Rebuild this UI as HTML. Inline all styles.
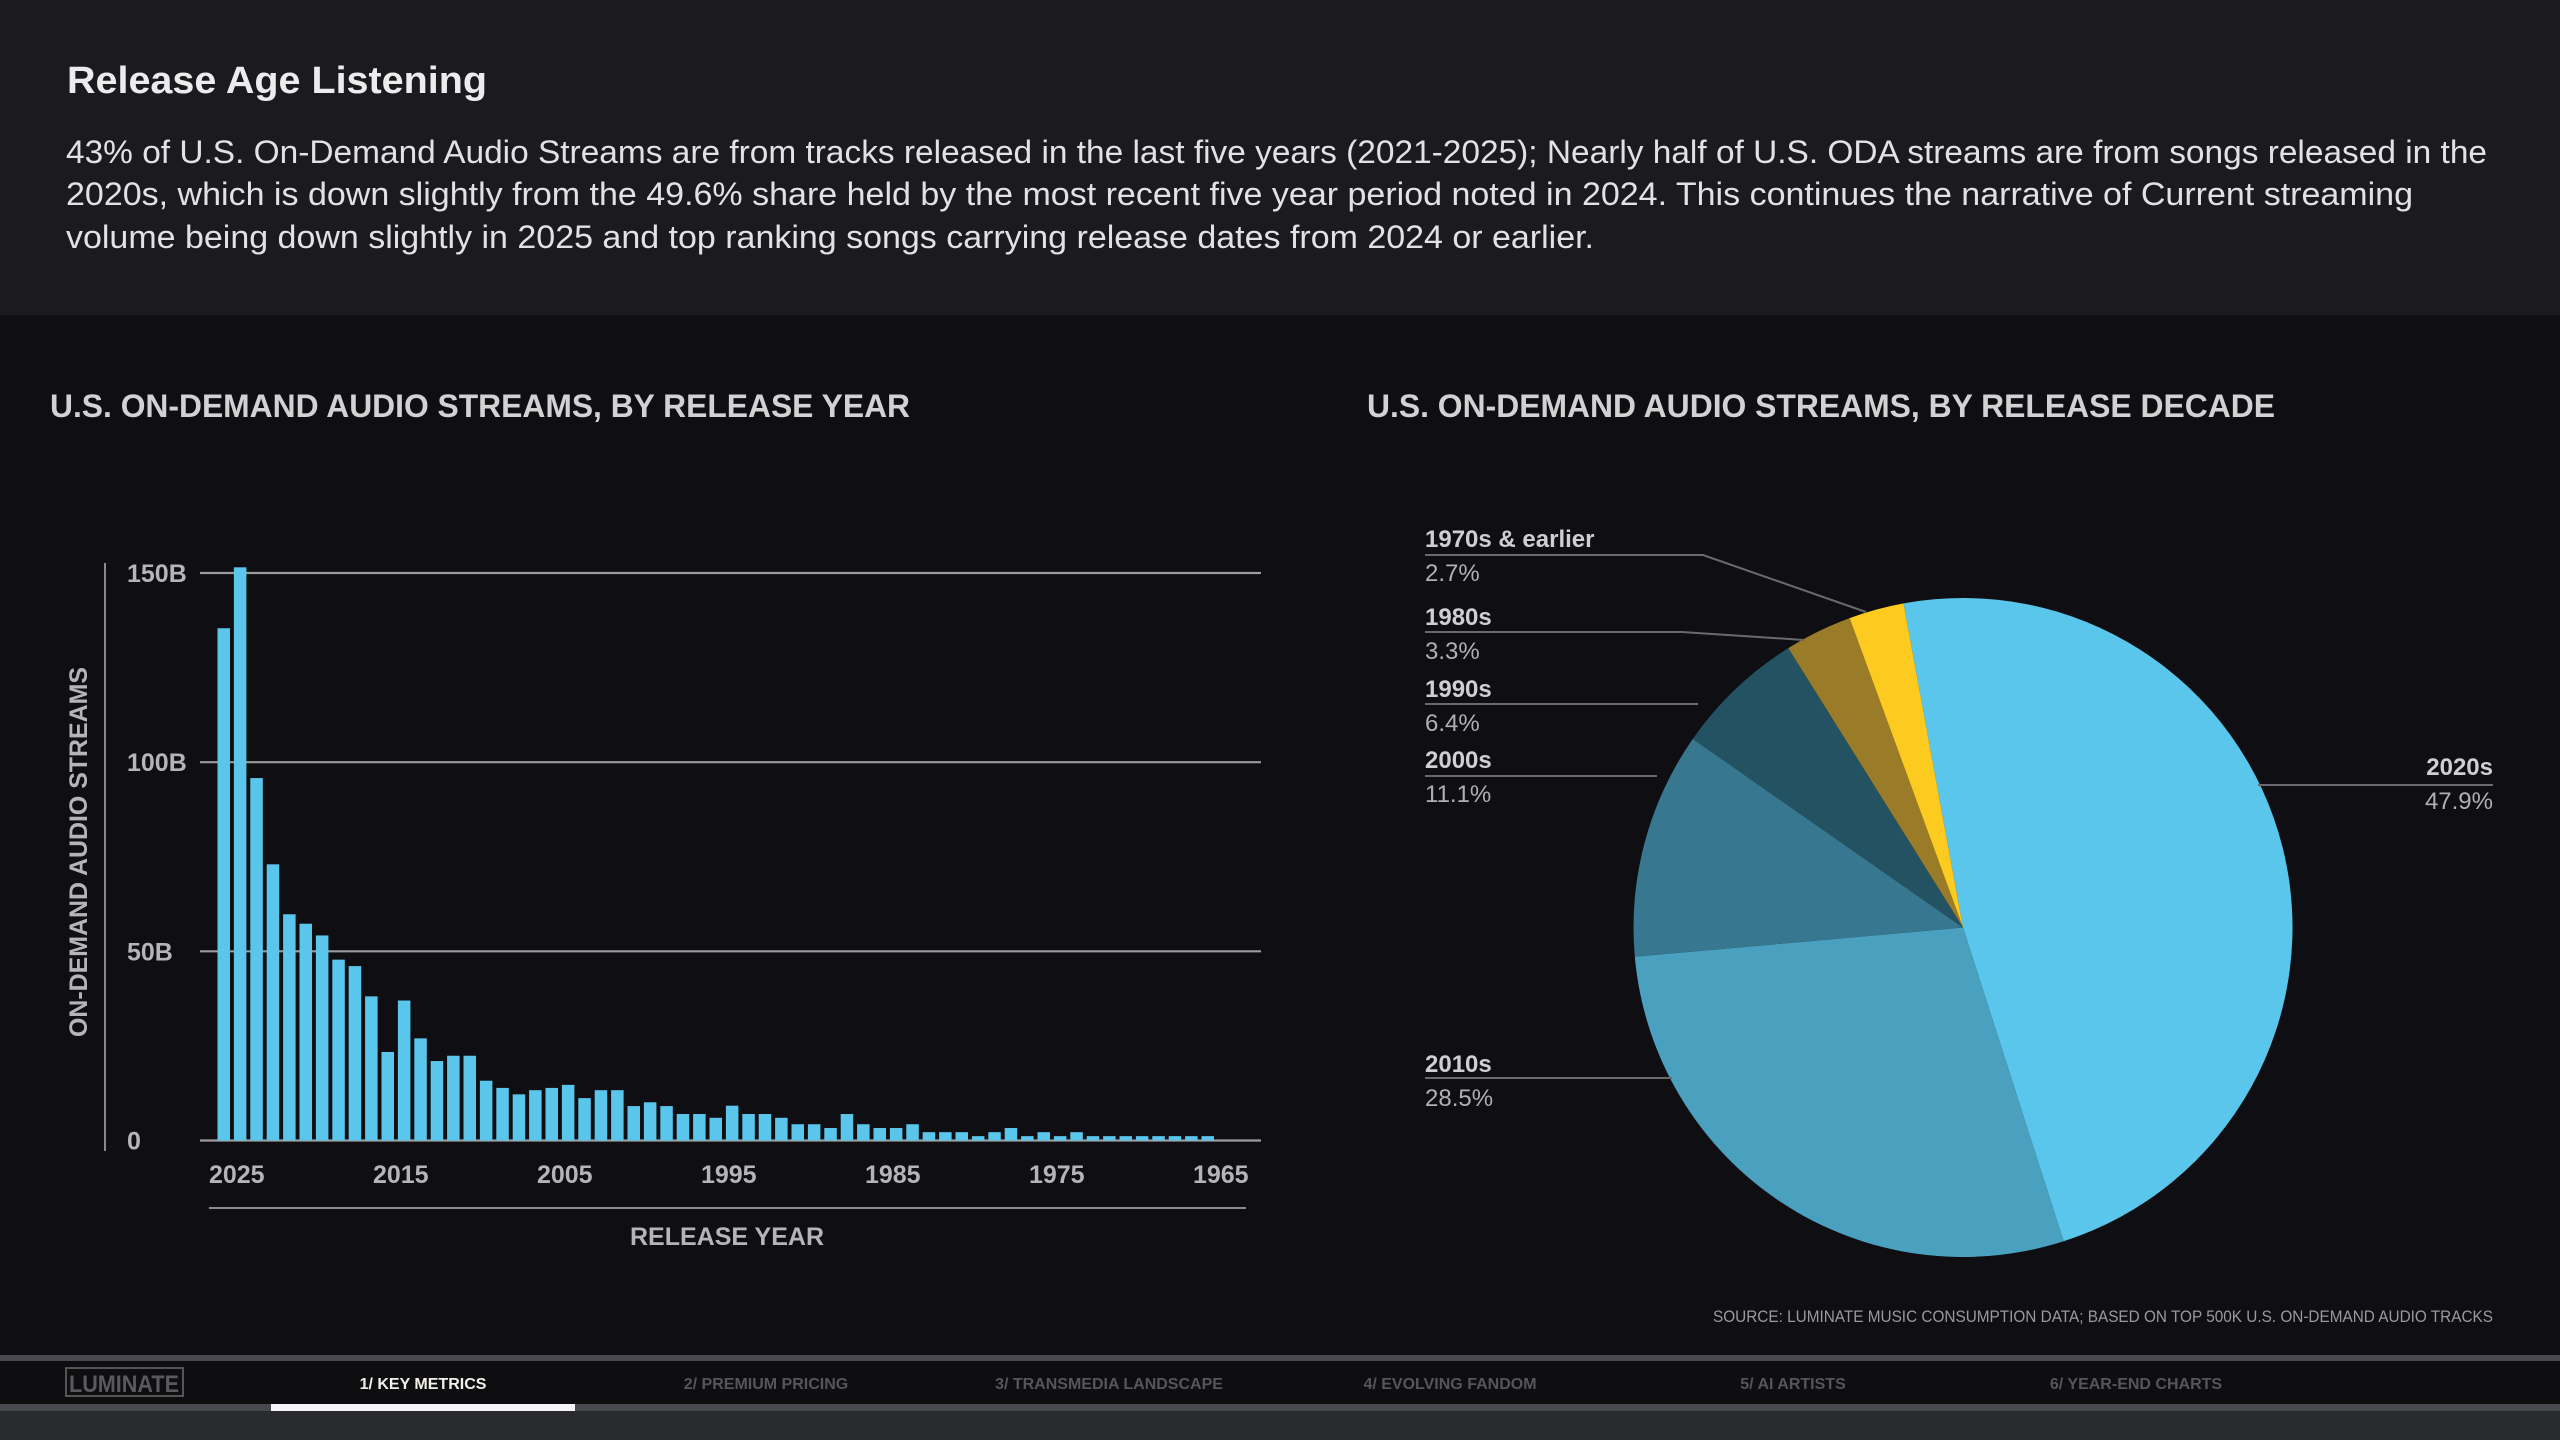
<!DOCTYPE html>
<html><head><meta charset="utf-8">
<style>
html,body{margin:0;padding:0;background:#0f0f13;}
svg{display:block;font-family:"Liberation Sans",sans-serif;}
</style></head>
<body>
<svg id="page" width="2560" height="1440" viewBox="0 0 2560 1440" xmlns="http://www.w3.org/2000/svg">
  <rect width="2560" height="1440" fill="#0f0f13"/>
  <rect x="0" y="0" width="2560" height="315" fill="#1b1b1f"/>
  <text x="67" y="93" fill="#ececec" font-size="38" font-weight="bold" textLength="420" lengthAdjust="spacingAndGlyphs">Release Age Listening</text>
  <g fill="#e2e2e2" font-size="32">
    <text x="66" y="163" textLength="2421" lengthAdjust="spacingAndGlyphs">43% of U.S. On-Demand Audio Streams are from tracks released in the last five years (2021-2025); Nearly half of U.S. ODA streams are from songs released in the</text>
    <text x="66" y="205" textLength="2347" lengthAdjust="spacingAndGlyphs">2020s, which is down slightly from the 49.6% share held by the most recent five year period noted in 2024. This continues the narrative of Current streaming</text>
    <text x="66" y="248" textLength="1528" lengthAdjust="spacingAndGlyphs">volume being down slightly in 2025 and top ranking songs carrying release dates from 2024 or earlier.</text>
  </g>
  <text x="50" y="417" fill="#d2d2d2" font-size="32" font-weight="bold" textLength="860" lengthAdjust="spacingAndGlyphs">U.S. ON-DEMAND AUDIO STREAMS, BY RELEASE YEAR</text>
  <text x="1367" y="417" fill="#d2d2d2" font-size="32" font-weight="bold" textLength="908" lengthAdjust="spacingAndGlyphs">U.S. ON-DEMAND AUDIO STREAMS, BY RELEASE DECADE</text>

  <g id="barchart"></g>
  <g id="piechart"></g>

  <text x="2493" y="1322" text-anchor="end" fill="#9a9a9e" font-size="17" textLength="780" lengthAdjust="spacingAndGlyphs">SOURCE:  LUMINATE MUSIC CONSUMPTION DATA; BASED ON TOP 500K U.S. ON-DEMAND AUDIO TRACKS</text>

  <g>
    <rect x="0" y="1355" width="2560" height="6" fill="#48494e"/>
    <rect x="0" y="1361" width="2560" height="43" fill="#0e0e11"/>
    <rect x="0" y="1404" width="2560" height="7" fill="#48494e"/>
    <rect x="0" y="1411" width="2560" height="29" fill="#2a2b2f"/>
    <rect x="271" y="1404" width="304" height="7" fill="#f4f4f8"/>
    <g>
      <rect x="66" y="1368" width="117" height="28" fill="none" stroke="#555" stroke-width="2"/>
      <text x="124" y="1392" text-anchor="middle" fill="#5a5a5e" font-size="24" font-weight="bold" textLength="110" lengthAdjust="spacingAndGlyphs">LUMINATE</text>
    </g>
    <text x="423" y="1389" text-anchor="middle" fill="#f2f0e8" font-size="16" font-weight="bold">1/ KEY METRICS</text>
    <text x="766" y="1389" text-anchor="middle" fill="#56565a" font-size="16" font-weight="bold">2/ PREMIUM PRICING</text>
    <text x="1109" y="1389" text-anchor="middle" fill="#56565a" font-size="16" font-weight="bold">3/ TRANSMEDIA LANDSCAPE</text>
    <text x="1450" y="1389" text-anchor="middle" fill="#56565a" font-size="16" font-weight="bold">4/ EVOLVING FANDOM</text>
    <text x="1793" y="1389" text-anchor="middle" fill="#56565a" font-size="16" font-weight="bold">5/ AI ARTISTS</text>
    <text x="2136" y="1389" text-anchor="middle" fill="#56565a" font-size="16" font-weight="bold">6/ YEAR-END CHARTS</text>
  </g>
</svg>
<script>
// ---- Bar chart data ----
const barYears = [];
for (let y = 2025; y >= 1965; y--) barYears.push(y);
const barValues = [135.4,151.5,95.8,73.0,59.8,57.3,54.2,47.8,46.1,38.1,
  23.4,37.0,27.0,21.0,22.4,22.4,15.8,13.9,12.2,13.3,
  13.9,14.7,11.2,13.3,13.3,9.1,10.1,9.1,7.0,7.0,
  6.0,9.2,7.0,7.0,6.0,4.3,4.3,3.3,7.0,4.3,
  3.3,3.3,4.3,2.2,2.2,2.2,1.15,2.2,3.3,1.15,
  2.2,1.15,2.2,1.15,1.15,1.15,1.15,1.15,1.15,1.15,1.15];
const yTicks = [0,50,100,150];
const yTickLabels = ["0","50B","100B","150B"];
const xTickYears = [2025,2015,2005,1995,1985,1975,1965];

// ---- Pie data ----
const pieLabels = ["2020s","2010s","2000s","1990s","1980s","1970s & earlier"];
const pieValues = [47.9,28.5,11.1,6.4,3.3,2.7];
const pieValueLabels = ["47.9%","28.5%","11.1%","6.4%","3.3%","2.7%"];

const NS = "http://www.w3.org/2000/svg";
function mk(tag, attrs, parent){
  const e = document.createElementNS(NS, tag);
  for (const k in attrs) e.setAttribute(k, attrs[k]);
  parent.appendChild(e);
  return e;
}

// ---- Bar chart ----
(function(){
  const g = document.getElementById('barchart');
  const x0 = 217.5, pitch = 16.4, bw = 12.5;
  const yBase = 1140.5, yTop = 573, vmax = 150;
  const yScale = v => yBase - v / vmax * (yBase - yTop);
  const xScale = i => x0 + i * pitch;

  const yAxis = mk('line', {x1:105,y1:563,x2:105,y2:1151,stroke:'#8a8a8e','stroke-width':2}, g);
  
  

  yTicks.forEach((t, i) => {
    const y = yScale(t);
    const gl = mk('line', {x1:200,y1:y,x2:1261,y2:y,stroke:'#9c9ca0','stroke-width':2.2}, g);
    
    
    const tl = mk('text', {x:127,y:y+9,fill:'#b5b5b8','font-size':25,'font-weight':'bold'}, g);
    tl.textContent = yTickLabels[i];
    
    
  });

  barValues.forEach((v, i) => {
    const y = yScale(v);
    const r = mk('rect', {x:xScale(i),y:y,width:bw,height:yBase-y,fill:'#5bc6ec'}, g);
    
    
  });

  xTickYears.forEach(yr => {
    const i = barYears.indexOf(yr);
    const t = mk('text', {x:xScale(i)+bw/2+13,y:1183,'text-anchor':'middle',fill:'#b5b5b8','font-size':25,'font-weight':'bold'}, g);
    t.textContent = String(yr);
    
    
  });

  const xl = mk('line', {x1:209,y1:1208,x2:1246,y2:1208,stroke:'#8a8a8e','stroke-width':2}, g);
  
  
  const xt = mk('text', {x:727,y:1245,'text-anchor':'middle',fill:'#b5b5b8','font-size':25,'font-weight':'bold'}, g);
  xt.textContent = 'RELEASE YEAR';
  
  
  const yt = mk('text', {x:0,y:0,'text-anchor':'middle',fill:'#b5b5b8','font-size':25,'font-weight':'bold',transform:'translate(87,852) rotate(-90)',textLength:370,lengthAdjust:'spacingAndGlyphs'}, g);
  yt.textContent = 'ON-DEMAND AUDIO STREAMS';
  
  
})();

// ---- Pie chart ----
(function(){
  const g = document.getElementById('piechart');
  const cx = 1963, cy = 927.5, r = 329.5;
  const colors = ['#5bc6ec','#4aa0bf','#37778f','#235262','#9a7b27','#fdcb1f'];
  const total = pieValues.reduce((a,b)=>a+b,0);
  let a = -10.4;
  const pt = deg => [cx + r*Math.sin(deg*Math.PI/180), cy - r*Math.cos(deg*Math.PI/180)];
  pieValues.forEach((v, i) => {
    const sweep = v/total*360;
    const [x1,y1] = pt(a), [x2,y2] = pt(a+sweep);
    const p = mk('path', {d:`M${cx},${cy} L${x1},${y1} A${r},${r} 0 ${sweep>180?1:0} 1 ${x2},${y2} Z`, fill:colors[i]}, g);
    
    
    a += sweep;
  });

  // label layout (positions only)
  const layout = [
    {x:2493, ly:775, vy:809, anchor:'end', line:'M2258,785 L2493,785'},
    {x:1425, ly:1072, vy:1106, anchor:'start', line:'M1425,1078 L1672,1078'},
    {x:1425, ly:768, vy:802, anchor:'start', line:'M1425,776 L1657,776'},
    {x:1425, ly:697, vy:731, anchor:'start', line:'M1425,704 L1698,704'},
    {x:1425, ly:625, vy:659, anchor:'start', line:'M1425,632 L1682,632 L1804,640'},
    {x:1425, ly:547, vy:581, anchor:'start', line:'M1425,555 L1703,555 L1866,612'}
  ];
  pieLabels.forEach((lab, i) => {
    const L = layout[i];
    const ln = mk('path', {d:L.line, fill:'none', stroke:'#6a6a6e','stroke-width':2}, g);
    
    
    const t = mk('text', {x:L.x,y:L.ly,'text-anchor':L.anchor,fill:'#cfcfd2','font-size':24,'font-weight':'bold'}, g);
    t.textContent = lab;
    
    
    const tv = mk('text', {x:L.x,y:L.vy,'text-anchor':L.anchor,fill:'#b0b0b4','font-size':24}, g);
    tv.textContent = pieValueLabels[i];
    
    
  });
})();
</script>
</body></html>
